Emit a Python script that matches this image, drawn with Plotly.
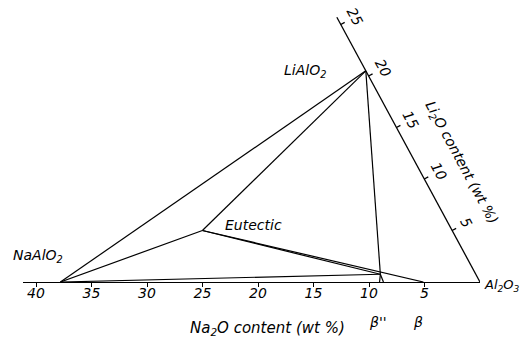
import plotly.graph_objects as go

# Phase compositions in the Na2O-Li2O-Al2O3 system (wt %)
phase_names = ["NaAlO2", "LiAlO2", "Eutectic", "beta2", "beta", "b2_base_a", "b2_base_b"]
na2o = [37.8, 0.0, 22.5, 8.6, 5.1, 9.05, 8.7]
li2o = [0.0, 20.5, 5.0, 0.75, 0.0, 0.0, 0.0]

# Lines joining the phases
tie_lines = [
    ("NaAlO2", "LiAlO2"),
    ("NaAlO2", "Eutectic"),
    ("Eutectic", "LiAlO2"),
    ("Eutectic", "beta2"),
    ("Eutectic", "beta"),
    ("NaAlO2", "beta2"),
    ("LiAlO2", "beta2"),
    ("beta2", "b2_base_a"),
    ("beta2", "b2_base_b"),
]

na2o_ticks = [40, 35, 30, 25, 20, 15, 10, 5]
li2o_ticks = [5, 10, 15, 20, 25]
li2o_axis_top = 25.7

# Page geometry
W, H = 524, 340
ML, MR, MT, MB = 23, 44, 5, 58
SX = 11.1   # px per wt% Na2O along the base
SY = 10.3   # vertical px per wt% Li2O
SHEAR = 5.57 / SX  # leftward shift of the Li2O axis per wt%

plot_w = W - ML - MR
plot_h = H - MT - MB

FONT = dict(family="DejaVu Sans", size=14, color="black", style="italic")
LINE = dict(color="black", width=1.2)

idx = {n: i for i, n in enumerate(phase_names)}


def xy(na, li):
    return na + SHEAR * li, li


fig = go.Figure()

# tie lines
xs, ys = [], []
for a, b in tie_lines:
    for n in (a, b):
        x, y = xy(na2o[idx[n]], li2o[idx[n]])
        xs.append(x)
        ys.append(y)
    xs.append(None)
    ys.append(None)
fig.add_trace(go.Scatter(x=xs, y=ys, mode="lines", line=LINE,
                         hoverinfo="skip", showlegend=False, cliponaxis=False))

# slanted Li2O axis with its ticks
ax_x, ax_y = [], []
for li in (0.0, li2o_axis_top):
    x, y = xy(0.0, li)
    ax_x.append(x)
    ax_y.append(y)
ax_x.append(None)
ax_y.append(None)
dir_len = (5.57 ** 2 + SY ** 2) ** 0.5
perp_r, perp_u = SY / dir_len, 5.57 / dir_len  # unit normal pointing right/up
TICK = 4.5
for li in li2o_ticks:
    x, y = xy(0.0, li)
    ax_x += [x, x - perp_r * TICK / SX, None]
    ax_y += [y, y + perp_u * TICK / SY, None]
fig.add_trace(go.Scatter(x=ax_x, y=ax_y, mode="lines",
                         line=dict(color="black", width=1.3),
                         hoverinfo="skip", showlegend=False, cliponaxis=False))

ANGLE = 61.6
annotations = []
LAB = 16.5
for li in li2o_ticks:
    x, y = xy(0.0, li)
    annotations.append(dict(x=x, y=y, text=str(li), showarrow=False,
                            textangle=ANGLE, font=FONT,
                            xshift=perp_r * LAB, yshift=perp_u * LAB))

x, y = xy(0.0, 11.4)
annotations.append(dict(x=x, y=y, text="Li<sub>2</sub>O content (wt %)",
                        showarrow=False, textangle=ANGLE, font=FONT,
                        xshift=45, yshift=2))


def label(name, text, dx, dy, **kw):
    x, y = xy(na2o[idx[name]], li2o[idx[name]])
    annotations.append(dict(x=x, y=y, text=text, showarrow=False, font=FONT,
                            xshift=dx, yshift=dy, **kw))


label("NaAlO2", "NaAlO<sub>2</sub>", -22, 26)
label("LiAlO2", "LiAlO<sub>2</sub>", -61, 0)
label("Eutectic", "Eutectic", 51, 6)
label("b2_base_b", "β''", -5, -40)
label("beta", "β", -5, -40)
annotations.append(dict(x=0, y=0, text="Al<sub>2</sub>O<sub>3</sub>",
                        showarrow=False, font=dict(FONT, size=13),
                        xanchor="left", xshift=2, yshift=-3))
annotations.append(dict(x=19.1, y=0, text="Na<sub>2</sub>O content (wt %)",
                        showarrow=False, font=dict(FONT, size=15), yshift=-46))

fig.update_layout(
    width=W, height=H,
    margin=dict(l=ML, r=MR, t=MT, b=MB, pad=0),
    paper_bgcolor="white", plot_bgcolor="white",
    font=FONT,
    annotations=annotations,
    showlegend=False,
    xaxis=dict(range=[plot_w / SX, 0], showgrid=False, zeroline=False,
               showline=True, linecolor="black", linewidth=1.3,
               ticks="outside", ticklen=4, tickwidth=1.1, tickcolor="black",
               ticklabelstandoff=-6,
               tickvals=na2o_ticks, ticktext=[str(v) for v in na2o_ticks],
               tickfont=FONT, automargin=False, fixedrange=True),
    yaxis=dict(range=[0, plot_h / SY], visible=False, fixedrange=True),
)

fig.write_html("out.html")
